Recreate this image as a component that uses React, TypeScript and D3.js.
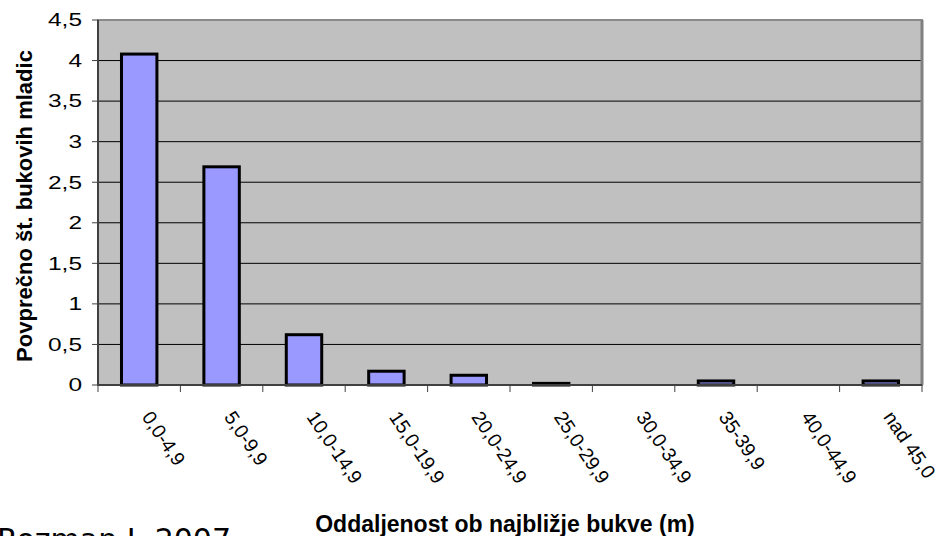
import React from "react";
import * as d3 from "d3";

const categories = [
  "0,0-4,9",
  "5,0-9,9",
  "10,0-14,9",
  "15,0-19,9",
  "20,0-24,9",
  "25,0-29,9",
  "30,0-34,9",
  "35-39,9",
  "40,0-44,9",
  "nad 45,0",
];
const values = [4.08, 2.69, 0.62, 0.17, 0.12, 0.02, 0, 0.05, 0, 0.05];
const yTicks = [0, 0.5, 1, 1.5, 2, 2.5, 3, 3.5, 4, 4.5];

const W = 943;
const H = 536;
const left = 98;
const right = 922;
const top = 20;
const bottom = 385;

const App = () => {
  const x = d3.scaleBand().domain(categories).range([left, right]).paddingInner(0).paddingOuter(0);
  const y = d3.scaleLinear().domain([0, 4.5]).range([bottom, top]);
  const fmt = (v: number) => String(v).replace(".", ",");
  const barW = x.bandwidth() * 0.43;
  const font = "Arial, 'Liberation Sans', sans-serif";

  return (
    <svg width={W} height={H} style={{ position: "absolute", left: 0, top: 0 }}>
      <rect x={0} y={0} width={W} height={H} fill="white" />
      <rect x={left} y={top} width={right - left} height={bottom - top} fill="#c0c0c0" />
      {yTicks.slice(1).map((t) => (
        <line key={t} x1={left} x2={right} y1={y(t)} y2={y(t)} stroke="#000" strokeWidth={1} />
      ))}
      <rect
        x={left}
        y={top}
        width={right - left}
        height={bottom - top}
        fill="none"
        stroke="#8a8a8a"
        strokeWidth={2}
      />
      <line x1={right} x2={right} y1={top} y2={bottom} stroke="#808080" strokeWidth={3} />
      {categories.map((c, i) => {
        const cx = x(c)! + x.bandwidth() / 2;
        const h = bottom - y(values[i]);
        return (
          <rect
            key={c}
            x={cx - barW / 2}
            y={y(values[i])}
            width={barW}
            height={Math.max(h, 0)}
            fill="#9999ff"
            stroke="#000"
            strokeWidth={3}
            style={{ display: values[i] > 0 ? undefined : "none" }}
          />
        );
      })}
      <line x1={left} x2={right} y1={bottom} y2={bottom} stroke="#404040" strokeWidth={2} />
      <line x1={left} x2={left} y1={top} y2={bottom} stroke="#404040" strokeWidth={2} />
      {yTicks.map((t) => (
        <g key={t}>
          <line x1={left - 6} x2={left} y1={y(t)} y2={y(t)} stroke="#404040" strokeWidth={1} />
          <text
            transform={`translate(${left - 16}, ${y(t)}) scale(1.4, 1)`}
            dy="0.36em"
            textAnchor="end"
            fontFamily={font}
            fontSize={17.5}
            fill="#000"
          >
            {fmt(t)}
          </text>
        </g>
      ))}
      {categories.map((c) => (
        <line
          key={"t" + c}
          x1={x(c)!}
          x2={x(c)!}
          y1={bottom}
          y2={bottom + 7}
          stroke="#404040"
          strokeWidth={1}
        />
      ))}
      <line x1={right} x2={right} y1={bottom} y2={bottom + 7} stroke="#404040" strokeWidth={1} />
      {categories.map((c) => {
        const cx = x(c)! + x.bandwidth() / 2;
        return (
          <text
            key={"l" + c}
            transform={`translate(${cx + 2}, ${bottom + 32}) rotate(56)`}
            textAnchor="start"
            fontFamily={font}
            fontSize={19.5}
            fill="#000"
          >
            {c}
          </text>
        );
      })}
      <text
        transform={`translate(32, 206) rotate(-90)`}
        textAnchor="middle"
        fontFamily={font}
        fontSize={22}
        fontWeight="bold"
        fill="#000"
      >
        Povprečno št. bukovih mladic
      </text>
      <text
        x={505}
        y={532}
        textAnchor="middle"
        fontFamily={font}
        fontSize={23}
        fontWeight="bold"
        fill="#000"
      >
        Oddaljenost ob najbližje bukve (m)
      </text>
      <text x={-3} y={550} fontFamily="'DejaVu Sans', sans-serif" fontSize={30} fill="#000">
        Rozman J. 2007
      </text>
    </svg>
  );
};

export default App;
